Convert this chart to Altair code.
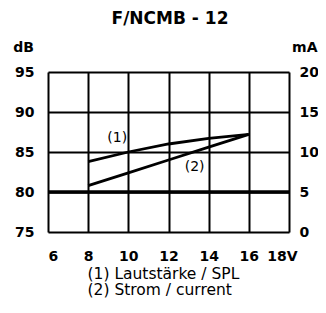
import altair as alt
import pandas as pd

# ---- data ----
voltage = [8, 10, 12, 14, 16]
spl_db = [83.8, 85.0, 86.0, 86.7, 87.2]        # (1) Lautstärke / SPL  (left axis, dB)
current_ma = [5.8, 7.4, 9.0, 10.6, 12.2]       # (2) Strom / current   (right axis, mA)

x_ticks = [6, 8, 10, 12, 14, 16, 18]
db_ticks = [75, 80, 85, 90, 95]
ma_ticks = [0, 5, 10, 15, 20]
ref_db = [80]

curve_labels = ["(1)", "(2)"]
curve_label_x = [9.45, 13.3]
curve_label_db = [86.75, 83.1]

title_text = "F/NCMB - 12"
footnote = ["(1) Lautstärke / SPL", "(2) Strom / current"]

FONT = "DejaVu Sans"

df_spl = pd.DataFrame({"V": voltage, "dB": spl_db})
df_cur = pd.DataFrame({"V": voltage, "mA": current_ma})
df_ref = pd.DataFrame({"dB": ref_db})
df_lab = pd.DataFrame({"V": curve_label_x, "dB": curve_label_db, "t": curve_labels})

xscale = alt.Scale(domain=[6, 18], nice=False, zero=False)
dbscale = alt.Scale(domain=[75, 95], nice=False, zero=False)
mascale = alt.Scale(domain=[0, 20], nice=False, zero=False)

x_axis = alt.Axis(
    values=x_ticks, grid=True, gridColor="black", gridWidth=2, gridOpacity=1,
    ticks=False, domain=False,
    labelFont=FONT, labelFontWeight="bold", labelFontSize=14, labelColor="black",
    labelPadding=17,
    labelExpr="datum.value == 18 ? '18V' : datum.label",
    labelOffset={"condition": {"test": "datum.value == 18", "value": 8}, "value": 0},
    title=footnote, titleFont=FONT, titleFontWeight="normal", titleFontSize=15.5,
    titleColor="black", titleAlign="left", titleAngle=0, titleX=39, titleY=46,
    titleBaseline="alphabetic", titleLineHeight=16.5,
)

left_axis = alt.Axis(
    orient="left", values=db_ticks, grid=True, gridColor="black", gridWidth=2, gridOpacity=1,
    ticks=False, domain=False,
    labelFont=FONT, labelFontWeight="bold", labelFontSize=14, labelColor="black",
    labelPadding=14,
    title="dB", titleFont=FONT, titleFontWeight="bold", titleFontSize=14, titleColor="black",
    titleAngle=0, titleX=-25, titleY=-25, titleAlign="center", titleBaseline="middle",
)

right_axis = alt.Axis(
    orient="right", values=ma_ticks, grid=False, ticks=False, domain=False,
    labelFont=FONT, labelFontWeight="bold", labelFontSize=14, labelColor="black",
    labelPadding=10, labelAlign="left",
    title="mA", titleFont=FONT, titleFontWeight="bold", titleFontSize=14, titleColor="black",
    titleAngle=0, titleX=28, titleY=-25, titleAlign="right", titleBaseline="middle",
)

spl = alt.Chart(df_spl).mark_line(color="black", strokeWidth=2.8).encode(
    x=alt.X("V:Q", scale=xscale, axis=x_axis),
    y=alt.Y("dB:Q", scale=dbscale, axis=left_axis),
)

cur = alt.Chart(df_cur).mark_line(color="black", strokeWidth=2.8).encode(
    x=alt.X("V:Q", scale=xscale),
    y=alt.Y("mA:Q", scale=mascale, axis=right_axis),
)

ref = alt.Chart(df_ref).mark_rule(color="black", strokeWidth=3.5).encode(
    y=alt.Y("dB:Q", scale=dbscale, axis=None),
)

labels = alt.Chart(df_lab).mark_text(
    font=FONT, fontSize=14, color="black", align="center", baseline="middle"
).encode(
    x=alt.X("V:Q", scale=xscale),
    y=alt.Y("dB:Q", scale=dbscale, axis=None),
    text="t:N",
)

chart = alt.layer(ref, spl, labels, cur).resolve_scale(y="independent").properties(
    width=241,
    height=160,
    autosize=alt.AutoSizeParams(type="none"),
    padding={"left": 40, "top": 64, "right": 29, "bottom": 73},
    title=alt.TitleParams(
        text=title_text, font=FONT, fontSize=17, fontWeight="bold", color="black",
        anchor="middle", dx=1.5, offset=12, frame="group",
    ),
).configure_view(
    fill="#e6e6e6", stroke="black", strokeWidth=2.5
).configure(background="white")

chart.save("out.html", embed_options={"renderer": "svg", "actions": False})
